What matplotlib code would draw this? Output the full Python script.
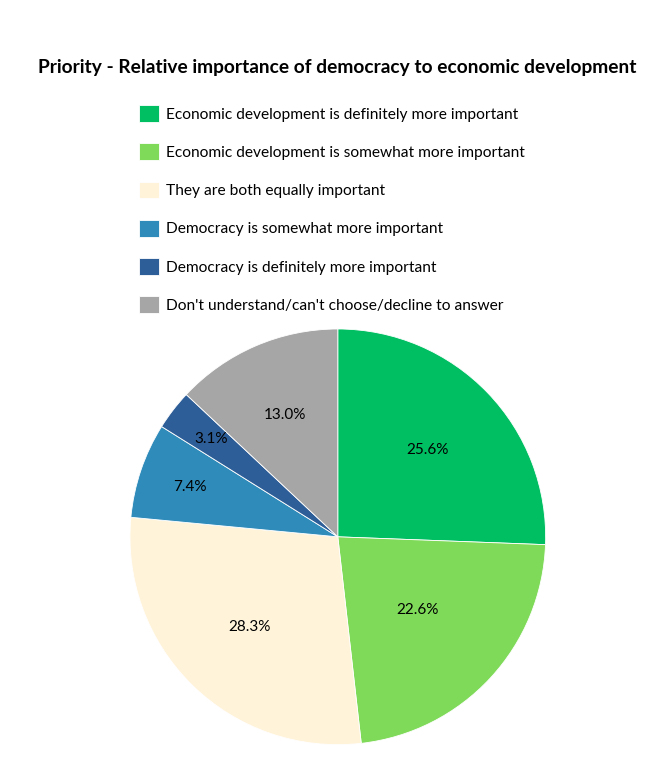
import numpy as np
import matplotlib.pyplot as plt

# datos del grafico
categorias = [
    "Economic development is definitely more important",
    "Economic development is somewhat more important",
    "They are both equally important",
    "Democracy is somewhat more important",
    "Democracy is definitely more important",
    "Don't understand/can't choose/decline to answer",
]
porcentajes = [25.6, 22.6, 28.3, 7.4, 3.1, 13.0]
colores = ['#00bf62', '#80da5a', '#fff3da', '#2e8bba', '#2e5e98', '#a6a6a6']
# distancia radial de cada etiqueta
distancias = [0.6, 0.52, 0.61, 0.75, 0.77, 0.64]

plt.rcParams['font.family'] = ['Lato', 'DejaVu Sans']

fig = plt.figure(figsize=(6.63, 7.68), dpi=100)
ax = fig.add_axes([0.196, 0.030, 0.627, 0.542])

wedges, textos, autotextos = ax.pie(
    porcentajes, colors=colores, startangle=90, counterclock=False,
    autopct='%1.1f%%', pctdistance=0.6,
    wedgeprops=dict(edgecolor='white', linewidth=0.6),
    textprops=dict(fontsize=11, color='black'))
ax.set_xlim(-1, 1)
ax.set_ylim(-1, 1)
ax.set_aspect('equal')

# reubicar etiquetas
for w, t, d in zip(wedges, autotextos, distancias):
    ang = np.deg2rad((w.theta1 + w.theta2) / 2)
    t.set_position((d * np.cos(ang), d * np.sin(ang)))

fig.text(0.508, 1 - 67 / 768, 'Priority - Relative importance of democracy to economic development',
         ha='center', va='center', fontsize=13.8, fontweight='bold')

fig.legend(wedges, categorias, loc='upper left',
           bbox_to_anchor=(125 / 663, 1 - 91 / 768), frameon=False,
           fontsize=11.2, handlelength=1.3, handleheight=1.3,
           handletextpad=0.45, labelspacing=1.37)

plt.savefig('out.png', dpi=100)
